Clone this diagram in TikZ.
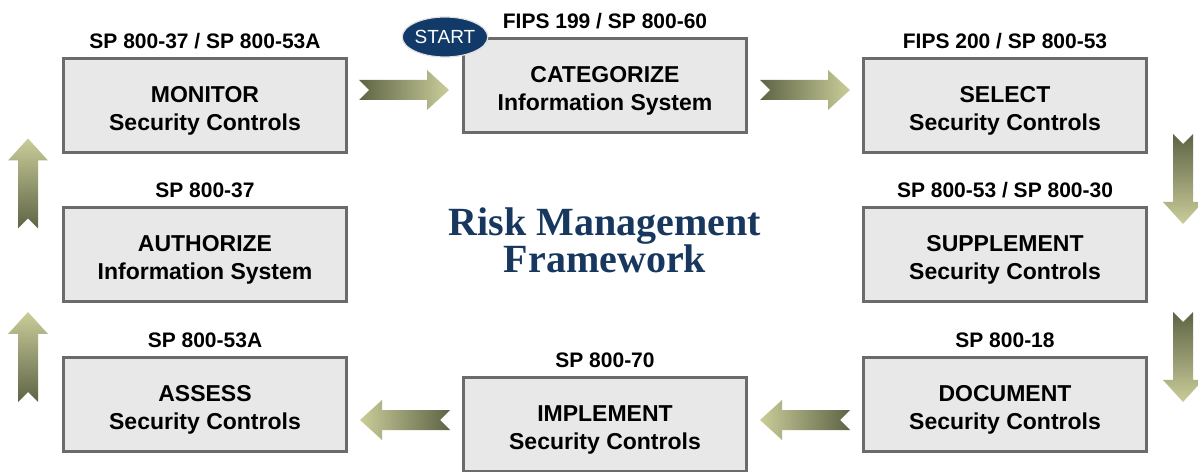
\documentclass[tikz,border=0pt]{standalone}
\usepackage{fontspec}
\setmainfont{Liberation Sans}
\newfontfamily\titlefont{Liberation Serif}
\usepackage{tikz}
\usetikzlibrary{shapes.geometric, positioning, shadows}

\definecolor{boxfill}{HTML}{E8E8E8}
\definecolor{boxline}{HTML}{6B6B6B}
\definecolor{navy}{HTML}{17375E}
\definecolor{startblue}{HTML}{123A69}
\definecolor{arrowdark}{HTML}{5E6345}
\definecolor{arrowlight}{HTML}{CACD99}

% block arrow: #1 centre, #2 direction angle, #3 shading
\newcommand{\rmfarrow}[3]{
	\begin{scope}[shift={#1}, rotate=#2]
		\shade[#3] (-45,-10) -- (23,-10) -- (23,-20) -- (45,0) -- (23,20) -- (23,10) -- (-45,10) -- (-35,0) -- cycle;
	\end{scope}
}

\begin{document}
\begin{tikzpicture}[x=1pt, y=1pt,
	stepbox/.style={draw=boxline, line width=3pt, fill=boxfill, drop shadow={shadow xshift=1.5pt, shadow yshift=-1.5pt, fill=gray, opacity=.6}, minimum width=283pt, minimum height=94pt, inner sep=0pt, align=center, font=\fontsize{23}{28}\selectfont\bfseries, execute at begin node=\rule{0pt}{54pt}},
	docref/.style={inner sep=0pt, text depth=0pt, font=\fontsize{21}{22}\selectfont\bfseries},
	startmark/.style={ellipse, fill=startblue, draw=white!75!gray, line width=1.2pt, minimum width=82pt, minimum height=40pt, inner sep=0pt, text=white, font=\fontsize{19}{20}\selectfont}]
	\useasboundingbox (0,0) rectangle (1198,471);
	% the seven steps
	\node[stepbox] (mon) at (205,365.5) {MONITOR\\Security Controls};
	\node[stepbox] (cat) at (605,385.5) {CATEGORIZE\\Information System};
	\node[stepbox] (sel) at (1005,365.5) {SELECT\\Security Controls};
	\node[stepbox] (aut) at (205,216.5) {AUTHORIZE\\Information System};
	\node[stepbox] (sup) at (1005,216.5) {SUPPLEMENT\\Security Controls};
	\node[stepbox] (ass) at (205,66.5) {ASSESS\\Security Controls};
	\node[stepbox] (imp) at (605,46.5) {IMPLEMENT\\Security Controls};
	\node[stepbox] (doc) at (1005,66.5) {DOCUMENT\\Security Controls};
	% publications
	\node[docref, above=8pt of mon] (monref) {SP 800-37 / SP 800-53A};
	\node[docref, above=8pt of cat] (catref) {FIPS 199 / SP 800-60};
	\node[docref, above=8pt of sel] (selref) {FIPS 200 / SP 800-53};
	\node[docref, above=8pt of aut] (autref) {SP 800-37};
	\node[docref, above=8pt of sup] (supref) {SP 800-53 / SP 800-30};
	\node[docref, above=8pt of ass] (assref) {SP 800-53A};
	\node[docref, above=8pt of imp] (impref) {SP 800-70};
	\node[docref, above=8pt of doc] (docref) {SP 800-18};
	\node[startmark] (start) at ([xshift=-17pt]cat.north west) {START};
	\node[align=center, text=navy, font=\fontsize{40}{37}\selectfont\titlefont\bfseries] (rmf) at (605,231) {Risk Management\\Framework};
	% arrows round the cycle
	\rmfarrow{(404,381)}{0}{left color=arrowdark, right color=arrowlight}
	\rmfarrow{(805,381)}{0}{left color=arrowdark, right color=arrowlight}
	\rmfarrow{(1183,292)}{-90}{top color=arrowdark, bottom color=arrowlight}
	\rmfarrow{(1183,114)}{-90}{top color=arrowdark, bottom color=arrowlight}
	\rmfarrow{(805,51)}{180}{left color=arrowlight, right color=arrowdark}
	\rmfarrow{(405,51)}{180}{left color=arrowlight, right color=arrowdark}
	\rmfarrow{(28,114)}{90}{bottom color=arrowdark, top color=arrowlight}
	\rmfarrow{(28,287.5)}{90}{bottom color=arrowdark, top color=arrowlight}
\end{tikzpicture}
\end{document}
